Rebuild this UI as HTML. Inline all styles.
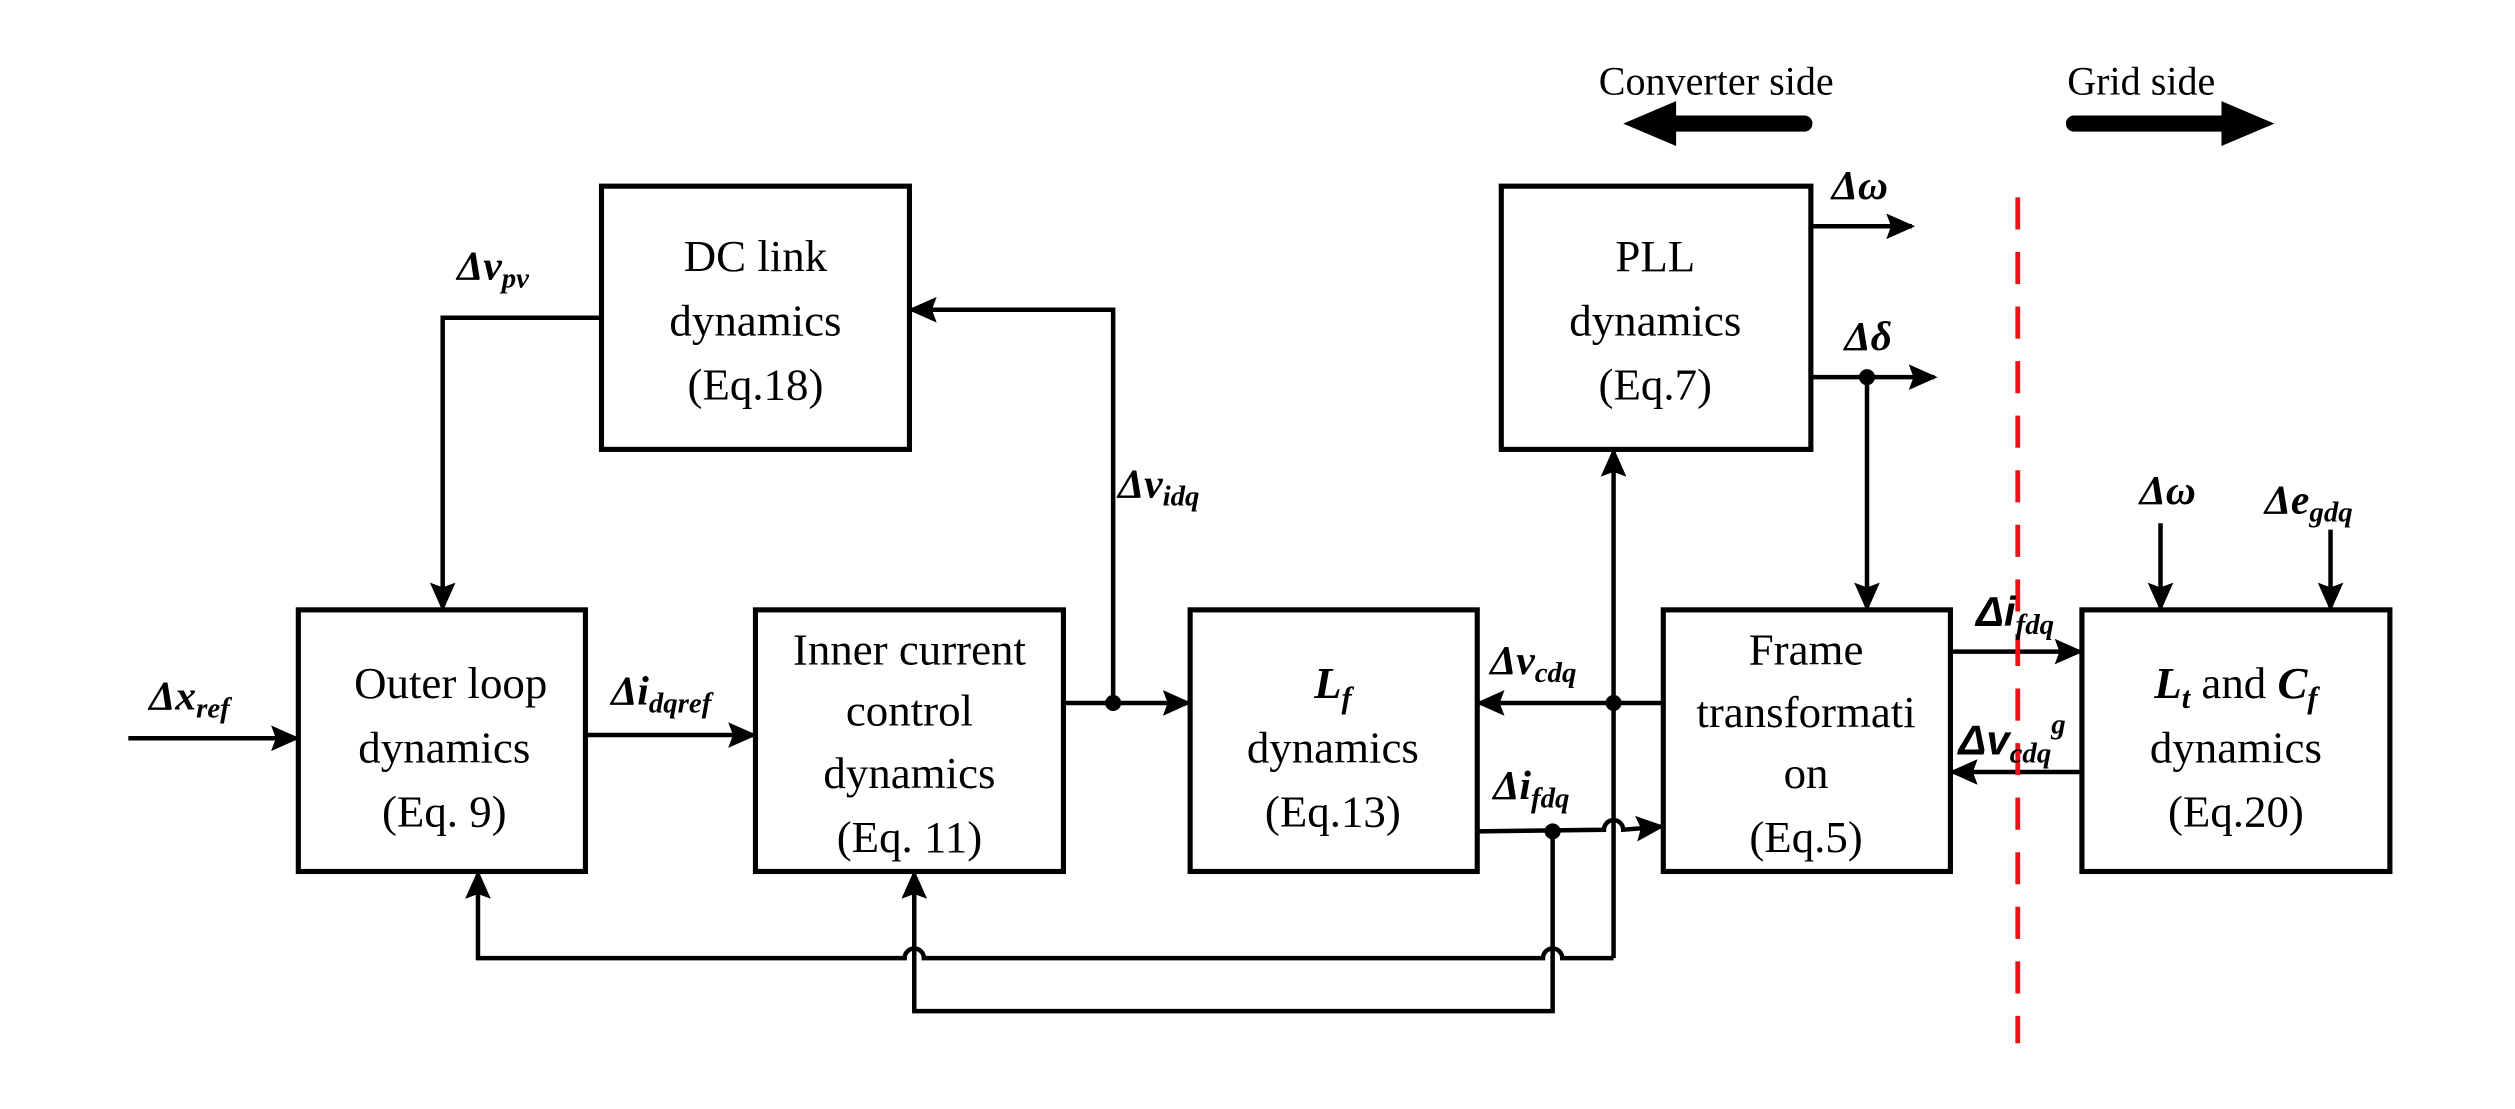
<!DOCTYPE html>
<html><head><style>html,body{margin:0;padding:0;background:#fff;}svg{display:block}</style></head>
<body>
<svg width="2515" height="1109" viewBox="0 0 1568 691" preserveAspectRatio="none" xmlns="http://www.w3.org/2000/svg">
<defs>
<marker id="b" markerWidth="18" markerHeight="16" refX="16" refY="8" orient="auto" markerUnits="userSpaceOnUse" viewBox="0 0 18 16"><path d="M0,0 L18,8 L0,16 L3,8 z" fill="#000"/></marker>
</defs>
<g fill="none" stroke="#000" stroke-width="3.2">
<rect x="375" y="116" width="192" height="164"/>
<rect x="936" y="116" width="193" height="164"/>
<rect x="186" y="380" width="179" height="163"/>
<rect x="471" y="380" width="192" height="163"/>
<rect x="742" y="380" width="179" height="163"/>
<rect x="1037" y="380" width="179" height="163"/>
<rect x="1298" y="380" width="192" height="163"/>
</g>
<g fill="none" stroke="#000" stroke-width="2.8" stroke-linejoin="miter">
<line x1="80" y1="460" x2="185" y2="460" marker-end="url(#b)"/>
<line x1="365" y1="458" x2="470" y2="458" marker-end="url(#b)"/>
<line x1="663" y1="438" x2="741" y2="438" marker-end="url(#b)"/>
<polyline points="694,438 694,193 568,193" marker-end="url(#b)"/>
<polyline points="375,198 276,198 276,379" marker-end="url(#b)"/>
<line x1="1037" y1="438" x2="922" y2="438" marker-end="url(#b)"/>
<line x1="1006" y1="597" x2="1006" y2="281" marker-end="url(#b)"/>
<path d="M921,518 L1000,517 A6,6 0 0 1 1012,517 L1036,515" marker-end="url(#b)"/>
<polyline points="968,518 968,630 570,630 570,544" marker-end="url(#b)"/>
<path d="M1006,597 L974,597 A6,6 0 0 0 962,597 L576,597 A6,6 0 0 0 564,597 L298,597 L298,544" marker-end="url(#b)"/>
<line x1="1129" y1="141" x2="1192" y2="141" marker-end="url(#b)"/>
<line x1="1129" y1="235" x2="1206" y2="235" marker-end="url(#b)"/>
<line x1="1164" y1="235" x2="1164" y2="379" marker-end="url(#b)"/>
<line x1="1216" y1="406" x2="1297" y2="406" marker-end="url(#b)"/>
<line x1="1298" y1="481" x2="1217" y2="481" marker-end="url(#b)"/>
<line x1="1347" y1="326" x2="1347" y2="379" marker-end="url(#b)"/>
<line x1="1453" y1="330" x2="1453" y2="379" marker-end="url(#b)"/>
</g>
<g fill="#000"><circle cx="694" cy="438" r="5"/><circle cx="1006" cy="438" r="5"/><circle cx="968" cy="518" r="5"/><circle cx="1164" cy="235" r="5"/></g>
<line x1="1258" y1="123" x2="1258" y2="650" stroke="#e8141a" stroke-width="3" stroke-dasharray="20,14"/>
<g stroke="#000" stroke-width="10" stroke-linecap="round"><line x1="1125" y1="77" x2="1040" y2="77"/><line x1="1293" y1="77" x2="1390" y2="77"/></g>
<path d="M1012,77 L1045,63 L1045,91 z" fill="#000"/>
<path d="M1418,77 L1385,63 L1385,91 z" fill="#000"/>
<g font-family="Liberation Serif, serif" font-size="28" text-anchor="middle" fill="#000">
<text x="1070" y="59" font-size="25">Converter side</text>
<text x="1335" y="59" font-size="25">Grid side</text>
<text x="471" y="169">DC link</text><text x="471" y="209">dynamics</text><text x="471" y="249">(Eq.18)</text>
<text x="1032" y="169">PLL</text><text x="1032" y="209">dynamics</text><text x="1032" y="249">(Eq.7)</text>
<text x="281" y="435">Outer loop</text><text x="277" y="475">dynamics</text><text x="277" y="515">(Eq. 9)</text>
<text x="567" y="414">Inner current</text><text x="567" y="452">control</text><text x="567" y="491">dynamics</text><text x="567" y="531">(Eq. 11)</text>
<text x="831" y="435" font-weight="bold" font-style="italic">L<tspan font-size="19" dy="6">f</tspan></text><text x="831" y="475">dynamics</text><text x="831" y="515">(Eq.13)</text>
<text x="1126" y="414">Frame</text><text x="1126" y="453">transformati</text><text x="1126" y="491">on</text><text x="1126" y="531">(Eq.5)</text>
<text x="1394" y="435"><tspan font-weight="bold" font-style="italic">L</tspan><tspan font-weight="bold" font-style="italic" font-size="19" dy="6">t</tspan><tspan dy="-6"> and </tspan><tspan font-weight="bold" font-style="italic">C</tspan><tspan font-weight="bold" font-style="italic" font-size="19" dy="6">f</tspan></text><text x="1394" y="475">dynamics</text><text x="1394" y="515">(Eq.20)</text>
</g>
<g font-family="Liberation Serif, serif" font-size="26" font-weight="bold" font-style="italic" fill="#000">
<text x="93" y="442">Δx<tspan font-size="18" dy="5">ref</tspan></text>
<text x="285" y="174">Δv<tspan font-size="18" dy="5">pv</tspan></text>
<text x="381" y="439">Δi<tspan font-size="18" dy="5">dqref</tspan></text>
<text x="697" y="310">Δv<tspan font-size="18" dy="5">idq</tspan></text>
<text x="929" y="420">Δv<tspan font-size="18" dy="5">cdq</tspan></text>
<text x="931" y="498">Δi<tspan font-size="18" dy="5">fdq</tspan></text>
<text x="1142" y="124">Δω</text>
<text x="1150" y="218">Δδ</text>
<text x="1232" y="390" font-family="Liberation Sans, sans-serif">Δi<tspan font-size="18" dy="5" font-family="Liberation Serif, serif">fdq</tspan></text>
<text x="1221" y="470" font-family="Liberation Sans, sans-serif">Δv<tspan font-size="18" dy="5" font-family="Liberation Serif, serif">cdq</tspan><tspan font-size="18" dy="-18" font-family="Liberation Serif, serif">g</tspan></text>
<text x="1334" y="314">Δω</text>
<text x="1412" y="320">Δe<tspan font-size="18" dy="5">gdq</tspan></text>
</g>
</svg>
</body></html>
